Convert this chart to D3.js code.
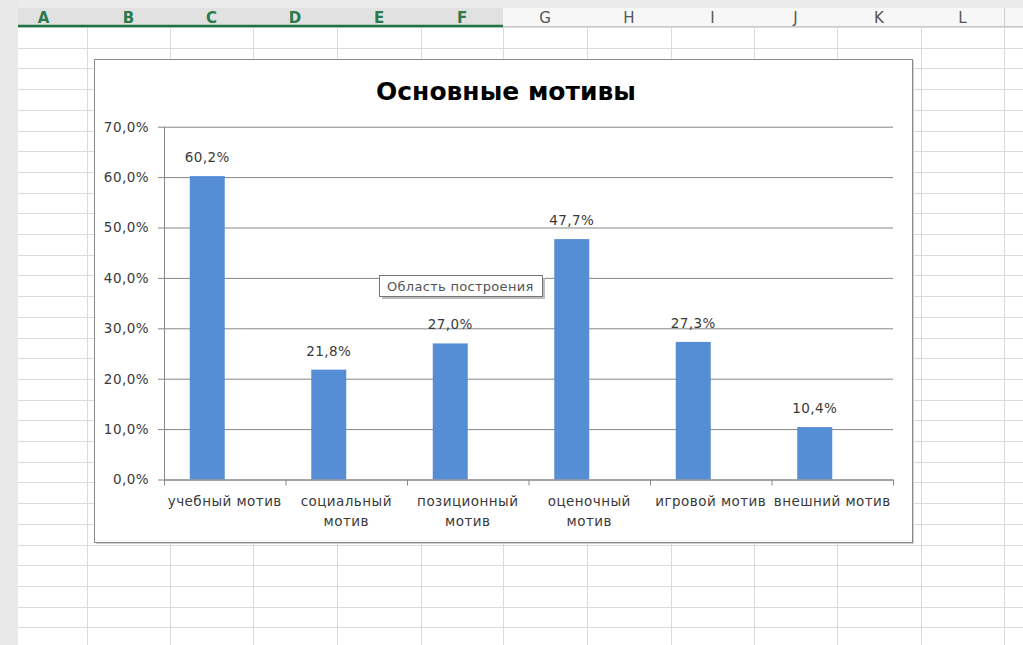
<!DOCTYPE html>
<meta charset="utf-8">
<style>
body { margin: 0; background: #fff; }
svg text { font-family: "DejaVu Sans", sans-serif; }
.sheet line { stroke: #dadada; stroke-width: 1; }
.grid line { stroke: #868686; stroke-width: 1; }
.axis path { display: none; }
.axis text { fill: #3a3a3a; font-size: 13.5px; letter-spacing: 0.45px; }
.lbl { fill: #3a3a3a; font-size: 13.5px; letter-spacing: 0.45px; text-anchor: middle; }
</style>
<svg width="1023" height="645"></svg>
<script src="https://d3js.org/d3.v7.min.js"></script>
<script>

// ---- data ----
var categories = ["учебный мотив", "социальный мотив", "позиционный мотив",
                  "оценочный мотив", "игровой мотив", "внешний мотив"];
var motives = [0.602, 0.218, 0.270, 0.477, 0.273, 0.104];
var series = ["Основные мотивы", ""];   // second series is empty in the workbook
var yTicks = [0, 0.1, 0.2, 0.3, 0.4, 0.5, 0.6, 0.7];
var columnLetters = ["A", "B", "C", "D", "E", "F", "G", "H", "I", "J", "K", "L"];
var selectedCols = ["A", "B", "C", "D", "E", "F"];
var title = "Основные мотивы";
var tipText = "Область построения";

var svg = d3.select("svg"),
    width = +svg.attr("width"),
    height = +svg.attr("height");

var ru = d3.formatLocale({decimal: ",", thousands: " ", grouping: [3], currency: ["", " ₽"]});
var pct = ru.format(".1%");

// ---- spreadsheet background ----
var colEdges = [0, 87, 170, 253, 337, 421, 503, 587, 671, 754, 837, 921, 1004];
var rowTop = 27, rowH = 20.7;

svg.append("rect").attr("width", width).attr("height", 8).attr("fill", "#ebebeb");

var sheet = svg.append("g").attr("class", "sheet");
d3.range(rowTop, height, rowH).forEach(function(y) {
  sheet.append("line").attr("x1", 18).attr("x2", width).attr("y1", Math.round(y) + 0.5).attr("y2", Math.round(y) + 0.5);
});
colEdges.slice(1).forEach(function(x) {
  sheet.append("line").attr("x1", x + 0.5).attr("x2", x + 0.5).attr("y1", rowTop).attr("y2", height);
});

// column header
var head = svg.append("g");
head.append("rect").attr("x", 0).attr("y", 8).attr("width", width).attr("height", 19).attr("fill", "#f7f7f7");
columnLetters.forEach(function(c, i) {
  var sel = selectedCols.indexOf(c) >= 0;
  var x0 = colEdges[i], x1 = colEdges[i + 1];
  head.append("rect").attr("x", x0).attr("y", 8).attr("width", x1 - x0).attr("height", 19)
      .attr("fill", sel ? "#e1e1e1" : "#f7f7f7");
  head.append("line").attr("x1", x1 + 0.5).attr("x2", x1 + 0.5).attr("y1", 8).attr("y2", 27)
      .attr("stroke", "#cfcfcf");
  head.append("text").attr("x", (x0 + x1) / 2).attr("y", 23)
      .attr("text-anchor", "middle").style("font-size", "15px")
      .style("font-weight", sel ? "bold" : "normal")
      .attr("fill", sel ? "#2a7a4c" : "#555")
      .text(c);
});
head.append("line").attr("x1", 18).attr("x2", width).attr("y1", 26.5).attr("y2", 26.5).attr("stroke", "#c8c8c8");
head.append("line").attr("x1", 18).attr("x2", colEdges[selectedCols.length]).attr("y1", 26).attr("y2", 26)
    .attr("stroke", "#217346").attr("stroke-width", 2.5);

svg.append("rect").attr("x", 0).attr("y", 0).attr("width", 18).attr("height", height).attr("fill", "#e9e9e9");

// ---- chart area ----
var box = {x: 94, y: 59, w: 818, h: 483};
svg.append("rect").attr("x", box.x + 2).attr("y", box.y + 2).attr("width", box.w).attr("height", box.h)
   .attr("fill", "#d0d0d0");
svg.append("rect").attr("x", box.x + 0.5).attr("y", box.y + 0.5).attr("width", box.w).attr("height", box.h)
   .attr("fill", "#fff").attr("stroke", "#8a8a8a");

svg.append("text").attr("x", 506).attr("y", 100)
   .attr("text-anchor", "middle").style("font-size", "25px").style("font-weight", "bold")
   .attr("fill", "#000").text(title);

var plot = {left: 164, right: 893, top: 126.7, bottom: 479.5};

var x = d3.scaleBand().domain(categories).range([plot.left, plot.right]).paddingInner(0);
var xs = d3.scaleBand().domain(series).range([0, x.bandwidth()]).paddingInner(0).paddingOuter(0.736);
var y = d3.scaleLinear().domain([0, 0.7]).range([plot.bottom, plot.top]);

// horizontal gridlines + y labels
var yAxis = svg.append("g").attr("class", "axis grid")
   .attr("transform", "translate(" + plot.left + ",0)")
   .call(d3.axisLeft(y).tickValues(yTicks).tickFormat(pct)
           .tickSizeInner(-(plot.right - plot.left)).tickSizeOuter(0).tickPadding(15));
yAxis.selectAll(".tick line").attr("x1", -6);

// vertical axis line
svg.append("line").attr("x1", plot.left + 0.5).attr("x2", plot.left + 0.5)
   .attr("y1", plot.top).attr("y2", plot.bottom).attr("stroke", "#868686");

// bars
svg.append("g").selectAll("rect").data(motives).enter().append("rect")
   .attr("x", function(d, i) { return x(categories[i]) + xs(series[0]); })
   .attr("y", function(d) { return y(d); })
   .attr("width", xs.bandwidth())
   .attr("height", function(d) { return y(0) - y(d); })
   .attr("fill", "#558ed5");

// data labels
svg.append("g").selectAll("text").data(motives).enter().append("text")
   .attr("class", "lbl")
   .attr("x", function(d, i) { return x(categories[i]) + xs(series[0]) + xs.bandwidth() / 2; })
   .attr("y", function(d) { return y(d) - 14; })
   .text(function(d) { return pct(d); });

// x axis
var xAxis = svg.append("g").attr("class", "axis")
   .attr("transform", "translate(0," + plot.bottom + ")")
   .call(d3.axisBottom(x).tickSize(0).tickPadding(17));
svg.append("line").attr("x1", plot.left).attr("x2", plot.right)
   .attr("y1", plot.bottom + 0.5).attr("y2", plot.bottom + 0.5).attr("stroke", "#868686");
svg.append("g").selectAll("line").data(categories.concat([null])).enter().append("line")
   .attr("x1", function(d) { return d === null ? plot.right : x(d); })
   .attr("x2", function(d) { return d === null ? plot.right : x(d); })
   .attr("y1", plot.bottom).attr("y2", plot.bottom + 6)
   .attr("stroke", "#868686")
   .attr("transform", "translate(0.5,0)");

xAxis.selectAll(".tick text").call(wrap, x.bandwidth() - 2);

function wrap(sel, w) {
  sel.each(function() {
    var t = d3.select(this), words = t.text().split(/\s+/), line = [], lines = [];
    words.forEach(function(wd) {
      line.push(wd);
      t.text(line.join(" "));
      if (this.getComputedTextLength() > w && line.length > 1) {
        line.pop(); lines.push(line.join(" ")); line = [wd];
      }
    }, this);
    lines.push(line.join(" "));
    var y0 = +t.attr("y");
    t.text(null);
    lines.forEach(function(l, i) {
      t.append("tspan").attr("x", 0).attr("y", y0).attr("dy", (0.71 + i * 1.45) + "em").text(l);
    });
  });
}

// tooltip left over from the screenshot
var tip = svg.append("g").attr("transform", "translate(379,275)");
tip.append("rect").attr("x", 3).attr("y", 3).attr("width", 163).attr("height", 21).attr("fill", "#bdbdbd");
tip.append("rect").attr("x", 0.5).attr("y", 0.5).attr("width", 163).attr("height", 21)
   .attr("fill", "#fff").attr("stroke", "#767676");
tip.append("text").attr("x", 8).attr("y", 16).style("font-size", "13px").style("letter-spacing", "0.3px")
   .attr("fill", "#555").text(tipText);

</script>
